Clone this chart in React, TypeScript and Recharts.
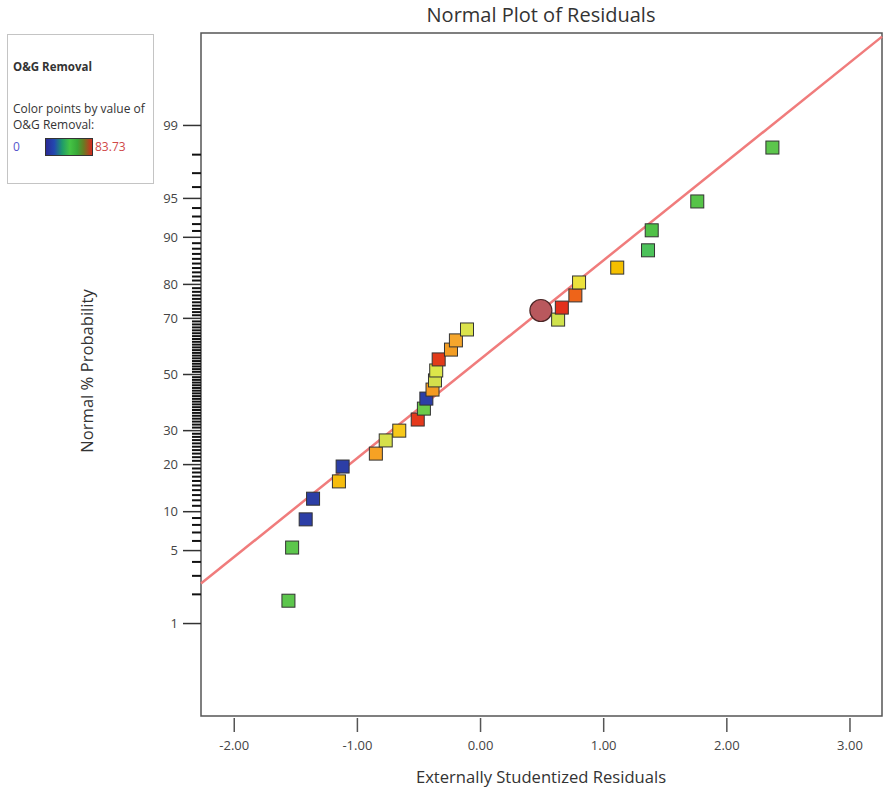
import React from "react";
import { ScatterChart, Scatter, XAxis, YAxis, ReferenceArea } from "recharts";

// externally studentized residuals (x) and normal % probability (y)
const residuals = [
  -1.56, -1.53, -1.42, -1.36, -1.15, -1.12, -0.85, -0.77, -0.66, -0.51, -0.46, -0.44, -0.39, -0.37,
  -0.36, -0.34, -0.24, -0.2, -0.11, 0.63, 0.66, 0.77, 0.8, 1.11, 1.36, 1.39, 1.76, 2.37,
];
const probabilities = [
  1.73, 5.3, 8.8, 12.3, 15.9, 19.5, 23.0, 26.9, 30.0, 33.7, 37.5, 41.1, 44.4, 47.8, 51.5, 55.6, 59.2,
  62.5, 66.3, 69.6, 73.4, 77.0, 80.5, 84.1, 87.7, 91.1, 94.7, 98.3,
];
const pointColors = [
  "#5cc64c", "#5cc64c", "#2c3ea6", "#2c3ea6", "#f6bd0e", "#2c3ea6", "#f6a224", "#d6e04a", "#f7c81a",
  "#e5391c", "#6ccb4a", "#2c3ea6", "#f39a22", "#d4df4c", "#dde64a", "#e23a19", "#f29d24", "#f5a62c",
  "#dbe34c", "#d0e24c", "#e2301c", "#ee6419", "#ece23c", "#f5c000", "#4cc25a", "#50c047", "#56c448",
  "#5cc64c",
];

// the selected run, drawn as a circle
const selectedResidual = [0.49];
const selectedProbability = [72.5];

// fitted normal line
const fitLineResidual = [-2.27, 3.26];
const fitLineProbability = [2.54, 99.92];

const xTicks = [-2, -1, 0, 1, 2, 3];
const majorPct = [1, 5, 10, 20, 30, 50, 70, 80, 90, 95, 99];
const minorPct = Array.from({ length: 99 }, (_, i) => i + 1).filter((p) => !majorPct.includes(p));

const X_DOMAIN: [number, number] = [-2.27, 3.26];
const Y_DOMAIN: [number, number] = [-3.19, 3.19];
const FONT = "'Open Sans', 'Noto Sans', sans-serif";

// inverse normal cdf (Acklam)
function probit(p: number) {
  const a = [-39.69683028665376, 220.9460984245205, -275.9285104469687, 138.357751867269, -30.66479806614716, 2.506628277459239];
  const b = [-54.47609879822406, 161.5858368580409, -155.6989798598866, 66.80131188771972, -13.28068155288572];
  const c = [-0.007784894002430293, -0.3223964580411365, -2.400758277161838, -2.549732539343734, 4.374664141464968, 2.938163982698783];
  const d = [0.007784695709041462, 0.3224671290700398, 2.445134137142996, 3.754408661907416];
  const pl = 0.02425;
  if (p < pl) {
    const q = Math.sqrt(-2 * Math.log(p));
    return (((((c[0] * q + c[1]) * q + c[2]) * q + c[3]) * q + c[4]) * q + c[5]) / ((((d[0] * q + d[1]) * q + d[2]) * q + d[3]) * q + 1);
  }
  if (p > 1 - pl) {
    const q = Math.sqrt(-2 * Math.log(1 - p));
    return -(((((c[0] * q + c[1]) * q + c[2]) * q + c[3]) * q + c[4]) * q + c[5]) / ((((d[0] * q + d[1]) * q + d[2]) * q + d[3]) * q + 1);
  }
  const q = p - 0.5;
  const r = q * q;
  return ((((((a[0] * r + a[1]) * r + a[2]) * r + a[3]) * r + a[4]) * r + a[5]) * q) / (((((b[0] * r + b[1]) * r + b[2]) * r + b[3]) * r + b[4]) * r + 1);
}

const majorZ = majorPct.map((p) => probit(p / 100));

const points = residuals.map((x, i) => ({ x, z: probit(probabilities[i] / 100), color: pointColors[i] }));
const selected = selectedResidual.map((x, i) => ({ x, z: probit(selectedProbability[i] / 100) }));
const fitLine = fitLineResidual.map((x, i) => ({ x, z: probit(fitLineProbability[i] / 100) }));
// minor ticks sit on the left frame, placed through the chart's scales
const minorTicks = minorPct.map((p) => ({ x: X_DOMAIN[0], z: probit(p / 100) }));

function ProbTick(props: any) {
  const { x, y, payload } = props;
  const pct = majorPct[majorZ.indexOf(payload.value)];
  return (
    <g>
      <line x1={x - 18} x2={x} y1={y} y2={y} stroke="#333" strokeWidth={1.5} />
      <text x={x - 23} y={y} dy={4.5} textAnchor="end" fontSize={13} fill="#444" fontFamily={FONT}>
        {pct}
      </text>
    </g>
  );
}

function MinorTick(props: any) {
  const { cx, cy } = props;
  return <line x1={cx - 9} x2={cx} y1={cy} y2={cy} stroke="#111" strokeWidth={2} />;
}

function ResidTick(props: any) {
  const { x, y, payload } = props;
  return (
    <g>
      <line x1={x} x2={x} y1={y + 2} y2={y + 16} stroke="#555" strokeWidth={1.5} />
      <text x={x} y={y + 34} textAnchor="middle" fontSize={13} fill="#444" fontFamily={FONT}>
        {payload.value.toFixed(2)}
      </text>
    </g>
  );
}

function SquareDot(props: any) {
  const { cx, cy, payload } = props;
  return <rect x={cx - 6.5} y={cy - 6.5} width={13} height={13} fill={payload.color} stroke="#333" strokeWidth={1} />;
}

export default function App() {
  return (
    <div style={{ position: "absolute", left: 0, top: 0, width: 884, height: 794, background: "#fff", fontFamily: FONT }}>
      <ScatterChart width={884} height={794} margin={{ top: 33, right: 2, bottom: 0, left: 0 }}>
        <XAxis
          type="number"
          dataKey="x"
          domain={X_DOMAIN}
          ticks={xTicks}
          height={78}
          axisLine={false}
          tickLine={false}
          tickSize={0}
          tickMargin={0}
          interval={0}
          tick={<ResidTick />}
        />
        <YAxis
          type="number"
          dataKey="z"
          domain={Y_DOMAIN}
          ticks={majorZ}
          width={201}
          axisLine={false}
          tickLine={false}
          tickSize={0}
          tickMargin={0}
          interval={0}
          tick={<ProbTick />}
        />
        <ReferenceArea
          x1={X_DOMAIN[0]}
          x2={X_DOMAIN[1]}
          y1={Y_DOMAIN[0]}
          y2={Y_DOMAIN[1]}
          fill="none"
          fillOpacity={0}
          stroke="#555"
          strokeWidth={1.5}
          ifOverflow="visible"
        />
        <Scatter data={minorTicks} shape={<MinorTick />} isAnimationActive={false} />
        <Scatter
          data={fitLine}
          line={{ stroke: "#f07c7c", strokeWidth: 2.5 }}
          lineType="joint"
          shape={() => null}
          isAnimationActive={false}
        />
        <Scatter
          data={selected}
          shape={(p: any) => <circle cx={p.cx} cy={p.cy} r={11} fill="#b9585d" stroke="#4a2626" strokeWidth={1.2} />}
          isAnimationActive={false}
        />
        <Scatter data={points} shape={<SquareDot />} isAnimationActive={false} />
      </ScatterChart>

      <div style={{ position: "absolute", left: 341, width: 400, top: 1, textAlign: "center", fontSize: 20, color: "#333" }}>
        Normal Plot of Residuals
      </div>
      <div style={{ position: "absolute", left: 341, width: 400, top: 765, textAlign: "center", fontSize: 16.6, color: "#333" }}>
        Externally Studentized Residuals
      </div>
      <div
        style={{
          position: "absolute",
          left: 87 - 100,
          top: 371 - 11,
          width: 200,
          height: 22,
          lineHeight: "22px",
          textAlign: "center",
          fontSize: 16.6,
          color: "#333",
          transform: "rotate(-90deg)",
        }}
      >
        Normal % Probability
      </div>

      <div
        style={{
          position: "absolute",
          left: 7,
          top: 34,
          width: 145,
          height: 148,
          border: "1px solid #c4c4c4",
          background: "#fff",
          fontSize: 12,
          color: "#333",
          whiteSpace: "nowrap",
        }}
      >
        <div style={{ position: "absolute", left: 5, top: 24, fontWeight: 700, fontSize: 11.5 }}>O&amp;G Removal</div>
        <div style={{ position: "absolute", left: 5, top: 65 }}>Color points by value of</div>
        <div style={{ position: "absolute", left: 5, top: 81 }}>O&amp;G Removal:</div>
        <div style={{ position: "absolute", left: 5, top: 103, color: "#5555cc" }}>0</div>
        <div
          style={{
            position: "absolute",
            left: 37,
            top: 103,
            width: 46,
            height: 16,
            border: "1px solid #333",
            background:
              "linear-gradient(to right, #2a2a96 0%, #2348b0 18%, #1f9a6a 35%, #44c444 52%, #38a838 68%, #6a7a22 82%, #d42a1e 100%)",
          }}
        />
        <div style={{ position: "absolute", left: 87, top: 103, color: "#d04848" }}>83.73</div>
      </div>
    </div>
  );
}
